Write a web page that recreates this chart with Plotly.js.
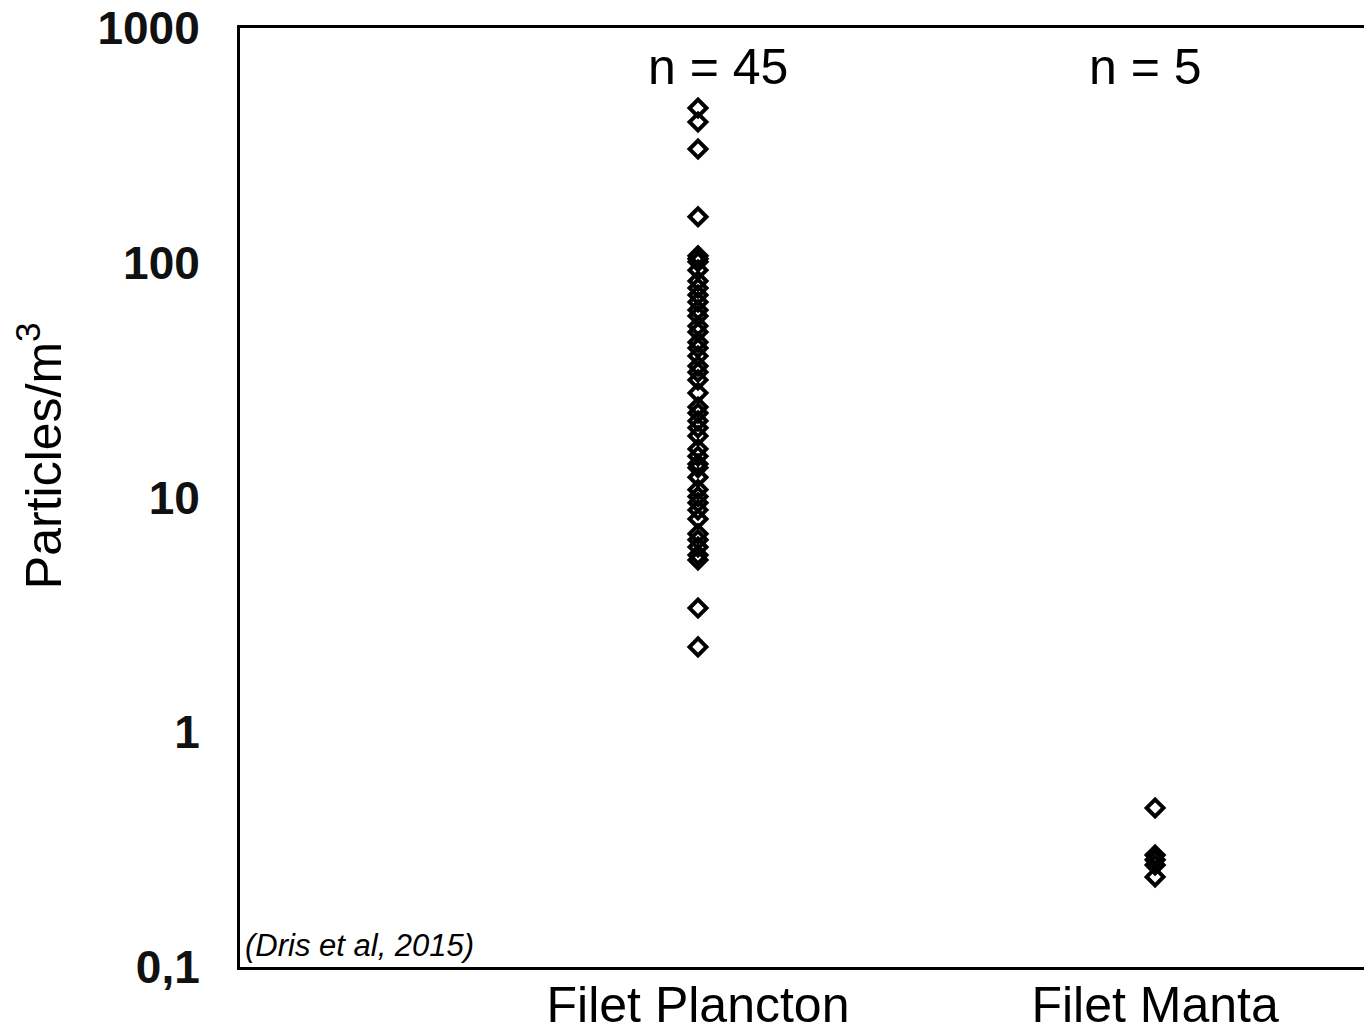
<!DOCTYPE html>
<html>
<head>
<meta charset="utf-8">
<script src="https://cdn.plot.ly/plotly-3.0.1.min.js"></script>
<style>html,body{margin:0;padding:0;background:#fff;}</style>
</head>
<body>
<div id="chart" style="width:1364px;height:1031px;"></div>
<script>
const categories = ["Filet Plancton", "Filet Manta"];
const countLabels = ["n = 45", "n = 5"];
const planctonValues = [456, 398, 305, 157, 107, 104, 101, 93, 83.6, 78,
  72.9, 68, 62.9, 59.3, 53.8, 50.7, 45.9, 43.3, 40.1, 36.3,
  34.2, 31.7, 27.9, 24.3, 22.9, 21.2, 19.8, 18.3, 16.1, 15.0,
  13.9, 13.4, 12.2, 10.8, 10.1, 9.5, 8.85, 8.1, 7.0, 6.6,
  6.15, 5.69, 5.42, 3.38, 2.31];
const mantaValues = [0.476, 0.300, 0.286, 0.272, 0.242];
const yTickVals = [0.1, 1, 10, 100, 1000];
const yTickText = ["0,1", "1", "10", "100", "1000"];
const sourceText = "(Dris et al, 2015)";

const marker = {symbol: "diamond-open", size: 13, color: "#000", line: {color: "#000", width: 4}};
const traces = [
  {type: "scatter", mode: "markers", x: planctonValues.map(() => categories[0]), y: planctonValues, marker: marker, showlegend: false, hoverinfo: "y"},
  {type: "scatter", mode: "markers", x: mantaValues.map(() => categories[1]), y: mantaValues, marker: marker, showlegend: false, hoverinfo: "y"}
];

const layout = {
  width: 1364, height: 1031,
  margin: {l: 240, r: 0, t: 28, b: 64, pad: 0},
  paper_bgcolor: "#fff", plot_bgcolor: "#fff",
  font: {family: "Liberation Sans, Arial, sans-serif", color: "#000"},
  xaxis: {
    type: "category", categoryorder: "array", categoryarray: categories,
    range: [-1.002, 1.457],
    showline: true, linecolor: "#000", linewidth: 3, mirror: true,
    showgrid: false, zeroline: false, ticks: "",
    tickfont: {size: 50, family: "Liberation Sans, Arial, sans-serif", color: "#000"},
    ticklabelstandoff: -8,
    automargin: false, fixedrange: true
  },
  yaxis: {
    type: "log", range: [-1, 3],
    tickvals: yTickVals, ticktext: yTickText,
    showline: true, linecolor: "#000", linewidth: 3, mirror: false,
    showgrid: false, zeroline: false, ticks: "",
    tickfont: {size: 46, family: "Liberation Sans, Arial, sans-serif", color: "#111", weight: "bold"},
    ticklabelstandoff: 28,
    automargin: false, fixedrange: true
  },
  annotations: [
    {xref: "paper", yref: "paper", x: -0.178, y: 0.545, text: "Particles/m<sup>3</sup>", textangle: -90,
     showarrow: false, xanchor: "center", yanchor: "middle", font: {size: 50, color: "#000"}},
    {xref: "paper", yref: "paper", x: 0.4253, y: 0.958, text: countLabels[0], showarrow: false,
     xanchor: "center", yanchor: "middle", font: {size: 50, color: "#000"}},
    {xref: "paper", yref: "paper", x: 0.8052, y: 0.958, text: countLabels[1], showarrow: false,
     xanchor: "center", yanchor: "middle", font: {size: 50, color: "#000"}},
    {xref: "paper", yref: "paper", x: 0.003, y: 0.0234, text: "<i>" + sourceText + "</i>", showarrow: false,
     xanchor: "left", yanchor: "middle", font: {size: 31, color: "#000"}}
  ]
};

Plotly.newPlot("chart", traces, layout, {displayModeBar: false, staticPlot: true});
</script>
</body>
</html>
